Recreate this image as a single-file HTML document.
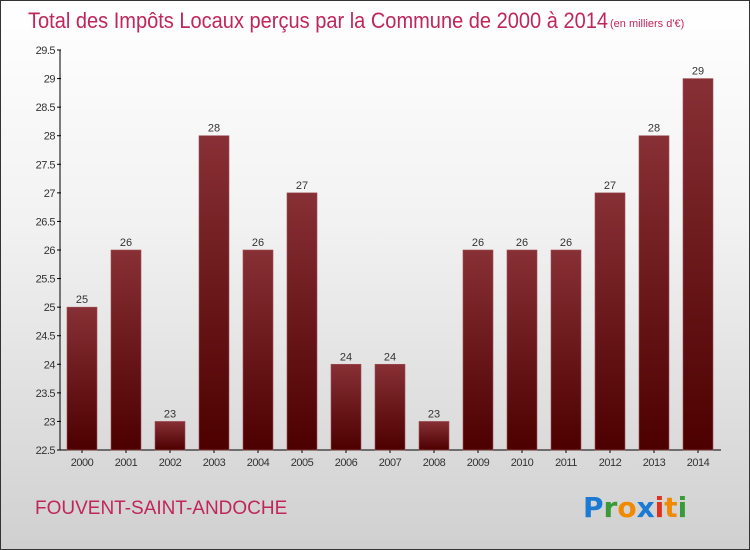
<!DOCTYPE html>
<html><head><meta charset="utf-8"><style>
body{margin:0}
#wrap{position:relative;width:748px;height:548px;border:1px solid #333;background:linear-gradient(#ffffff 0%,#f2f2f2 40%,#d0d0d0 100%);font-family:"Liberation Sans",sans-serif;overflow:hidden}
</style></head><body>
<div id="wrap">
<svg id="chart" width="748" height="548">
<defs><linearGradient id="bg" x1="0" y1="0" x2="0" y2="1"><stop offset="0" stop-color="#873035"/><stop offset="1" stop-color="#4d0000"/></linearGradient></defs>
<text x="27" y="27" font-size="22" fill="#c0265a" textLength="580" lengthAdjust="spacingAndGlyphs">Total des Impôts Locaux perçus par la Commune de 2000 à 2014</text>
<text x="609" y="26" font-size="11" fill="#c0265a">(en milliers d'€)</text>
<text x="34" y="513" font-size="19" fill="#c0265a">FOUVENT-SAINT-ANDOCHE</text>
<g font-size="28" font-weight="bold" font-family="'DejaVu Sans',sans-serif">
<text x="582" y="516"><tspan fill="#1a7ad4">P</tspan><tspan fill="#3a9a3a">r</tspan><tspan fill="#f08a00">o</tspan><tspan fill="#1a7ad4">x</tspan><tspan fill="#e03020">i</tspan><tspan fill="#f08a00">t</tspan><tspan fill="#3a9a3a">i</tspan></text></g>
<g id="axes"></g><g id="bars"></g>
</svg></div>
<script>
const years=["2000","2001","2002","2003","2004","2005","2006","2007","2008","2009","2010","2011","2012","2013","2014"];
const values=[25,26,23,28,26,27,24,24,23,26,26,26,27,28,29];
const ticks=[22.5,23,23.5,24,24.5,25,25.5,26,26.5,27,27.5,28,28.5,29,29.5];
const NS="http://www.w3.org/2000/svg";
const y0=449,yTop=49,vmin=22.5,vmax=29.5;
const ys=v=>y0-(v-vmin)/(vmax-vmin)*(y0-yTop);
const xs=i=>81+i*44;
function mk(t,a,p){const e=document.createElementNS(NS,t);for(const k in a)e.setAttribute(k,a[k]);p.appendChild(e);return e;}
const ax=document.getElementById('axes'),bars=document.getElementById('bars');
const yl=mk('line',{x1:59,y1:yTop,x2:59,y2:y0,stroke:'#000'},ax);


const xl=mk('line',{x1:59,y1:y0,x2:720,y2:y0,stroke:'#000'},ax);


ticks.forEach(t=>{const y=ys(t);
mk('line',{x1:56,y1:y,x2:60,y2:y,stroke:'#000'},ax);
const tx=mk('text',{x:54,y:y+4,'font-size':11,fill:'#333','text-anchor':'end','letter-spacing':'-0.5'},ax);tx.textContent=String(t);

});
years.forEach((yr,i)=>{const x=xs(i),v=values[i],y=ys(v);
const r=mk('rect',{x:x-15,y:y,width:30,height:y0-y,fill:'url(#bg)',stroke:'#a05055','stroke-width':0.6},bars);


const l=mk('text',{x:x,y:y-4,'font-size':11,fill:'#333','text-anchor':'middle'},bars);l.textContent=String(v);


const xt=mk('text',{x:x,y:y0+16,'font-size':11,fill:'#333','text-anchor':'middle','letter-spacing':'-0.5'},ax);xt.textContent=yr;


mk('line',{x1:x,y1:y0,x2:x,y2:y0+3,stroke:'#000'},ax);});
</script>
</body></html>
